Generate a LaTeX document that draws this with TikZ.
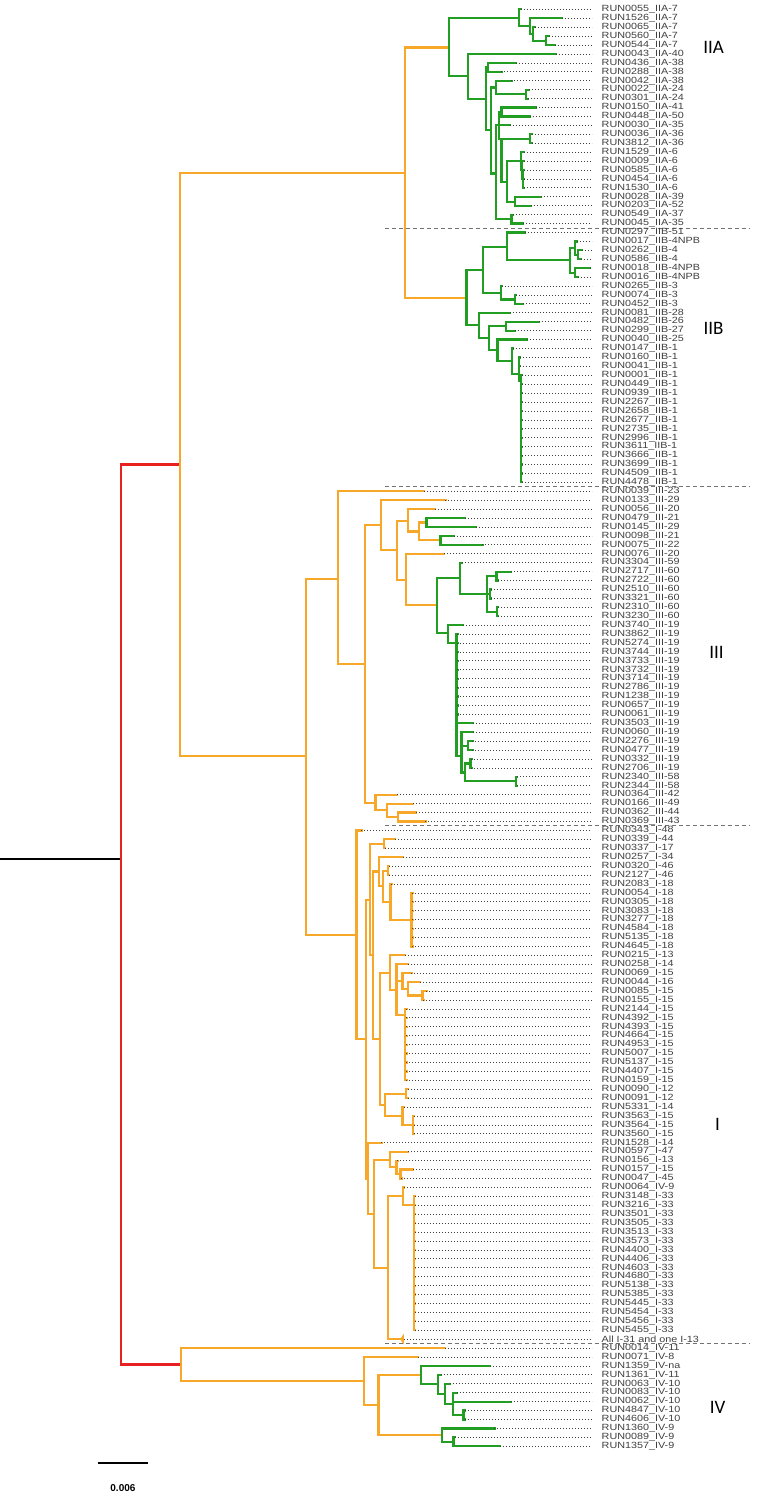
\documentclass[tikz,border=0pt]{standalone}
\usepackage{fontspec}
\setmainfont{Liberation Sans}
\newfontfamily\labfont[FakeStretch=1.2]{Liberation Sans}
\newfontfamily\cladefont{Carlito}
\definecolor{grn}{RGB}{34,158,34}
\definecolor{org}{RGB}{247,168,40}
\definecolor{rd}{RGB}{232,32,32}
\tikzset{
  br/.style={line width=2.2pt, line cap=rect},
  lead/.style={line width=0.8pt, line cap=butt, dash pattern=on 0.8pt off 2.2pt, color=black!75},
  lab/.style={anchor=west, inner xsep=9pt, inner ysep=0pt, text=black!75,
    font=\labfont\fontsize{9}{9}\selectfont},
  clade/.style={font=\cladefont\fontsize{19}{19}\selectfont},
  sep/.style={line width=1pt, color=black!55, dash pattern=on 4pt off 3pt},
}
% leaf: index, parent x, tip x, label
\newcommand\lf[4]{%
  \draw (#2,#1) -- (#3,#1) coordinate (t#1);
  \node[lab] (l#1) at (592,#1) {#4};
  \draw[lead] (t#1) -- (l#1.west);}
\begin{document}
\begin{tikzpicture}[x=1pt,y=-8.93pt]
  \useasboundingbox (0,-0.05) rectangle (764,168.36);
  % separators
  \foreach \s in {25.5,54.5,92.5,150.5}
    \draw[sep] (385,\s) -- (750,\s);
  % root
  \draw[br,black] (0,96.2) -- (121,96.2);
  \begin{scope}[br,rd]
    \draw (121,52) -- (121,152.85);
    \draw (121,52) -- (180,52);
    \draw (121,152.85) -- (181,152.85);
  \end{scope}
  \begin{scope}[br,org]
    \draw (180,19.3) -- (180,84.7);
    \draw (180,19.3) -- (405,19.3);
    \draw (180,84.7) -- (306,84.7);
    \draw (405,5.28) -- (405,33.3);
    \draw (405,5.28) -- (449,5.28);
    \draw (405,33.3) -- (466.7,33.3);
  \end{scope}
  % IIA
  \begin{scope}[br,grn]
    \draw (449,1.94) -- (449,8.5);
    \draw (449,1.94) -- (519,1.94);
    \draw (519,1) -- (519,2.875);
    \lf{1}{519}{521}{RUN0055\_IIA-7}
    \draw (519,2.875) -- (530,2.875);
    \draw (530,2) -- (530,3.75);
    \lf{2}{530}{562}{RUN1526\_IIA-7}
    \draw (530,3.75) -- (533.3,3.75);
    \draw (533.3,3) -- (533.3,4.5);
    \lf{3}{533.3}{535}{RUN0065\_IIA-7}
    \draw (533.3,4.5) -- (546,4.5);
    \draw (546,4) -- (546,5);
    \lf{4}{546}{549}{RUN0560\_IIA-7}
    \lf{5}{546}{555}{RUN0544\_IIA-7}
    \draw (449,8.5) -- (468,8.5);
    \draw (468,6) -- (468,11.05);
    \lf{6}{468}{556}{RUN0043\_IIA-40}
    \draw (468,11.05) -- (486,11.05);
    \draw (486,7.5) -- (486,14.5);
    \draw (486,7.5) -- (488.3,7.5);
    \draw (488.3,7) -- (488.3,8);
    \lf{7}{488.3}{516.7}{RUN0436\_IIA-38}
    \lf{8}{488.3}{501.7}{RUN0288\_IIA-38}
    \draw (486,14.5) -- (491,14.5);
    \draw (491,9.75) -- (491,19.4);
    \draw (491,9.75) -- (496,9.75);
    \draw (496,9) -- (496,10.5);
    \lf{9}{496}{511.7}{RUN0042\_IIA-38}
    \draw (496,10.5) -- (526.7,10.5);
    \draw (526.7,10) -- (526.7,11);
    \lf{10}{526.7}{529}{RUN0022\_IIA-24}
    \lf{11}{526.7}{528}{RUN0301\_IIA-24}
    \draw (491,19.4) -- (496,19.4);
    \draw (496,14) -- (496,24.5);
    \draw (496,14) -- (499.3,14);
    \draw (499.3,12.5) -- (499.3,15.5);
    \draw (499.3,12.5) -- (501.7,12.5);
    \draw (501.7,12) -- (501.7,13);
    \lf{12}{501.7}{536}{RUN0150\_IIA-41}
    \lf{13}{501.7}{530}{RUN0448\_IIA-50}
    \lf{14}{499.3}{510}{RUN0030\_IIA-35}
    \draw (499.3,15.5) -- (530,15.5);
    \draw (530,15) -- (530,16);
    \lf{15}{530}{532}{RUN0036\_IIA-36}
    \lf{16}{530}{532}{RUN3812\_IIA-36}
    \draw (501.7,15.5) -- (501.7,20.3);
    \draw (501.7,20.3) -- (507,20.3);
    \draw (507,18) -- (507,22.55);
    \draw (507,18) -- (521.7,18);
    \draw (521.7,17) -- (521.7,19);
    \lf{17}{521.7}{524}{RUN1529\_IIA-6}
    \draw (521.7,19) -- (522.5,19);
    \draw (522.5,18) -- (522.5,20);
    \lf{18}{522.5}{524}{RUN0009\_IIA-6}
    \draw (522.5,20) -- (523.3,20);
    \draw (523.3,19) -- (523.3,21);
    \lf{19}{523.3}{524.5}{RUN0585\_IIA-6}
    \lf{20}{523.3}{524.5}{RUN0454\_IIA-6}
    \lf{21}{523.3}{524.5}{RUN1530\_IIA-6}
    \draw (507,22.55) -- (515,22.55);
    \draw (515,22) -- (515,23);
    \lf{22}{515}{541.7}{RUN0028\_IIA-39}
    \lf{23}{515}{531.7}{RUN0203\_IIA-52}
    \draw (496,24.5) -- (511.7,24.5);
    \draw (511.7,24) -- (511.7,25);
    \lf{24}{511.7}{513.3}{RUN0549\_IIA-37}
    \lf{25}{511.7}{523.3}{RUN0045\_IIA-35}
  % IIB
    \draw (466.7,30.2) -- (466.7,36.4);
    \draw (466.7,30.2) -- (483.3,30.2);
    \draw (483.3,27.6) -- (483.3,32.75);
    \draw (483.3,27.6) -- (507.3,27.6);
    \draw (507.3,26) -- (507.3,29.1);
    \lf{26}{507.3}{525}{RUN0297\_IIB-51}
    \draw (507.3,29.1) -- (570.7,29.1);
    \draw (570.7,27.75) -- (570.7,30.5);
    \draw (570.7,27.75) -- (575,27.75);
    \draw (575,27) -- (575,28.5);
    \lf{27}{575}{577}{RUN0017\_IIB-4NPB}
    \draw (575,28.5) -- (578,28.5);
    \draw (578,28) -- (578,29);
    \lf{28}{578}{582}{RUN0262\_IIB-4}
    \lf{29}{578}{581}{RUN0586\_IIB-4}
    \draw (570.7,30.5) -- (575.7,30.5);
    \draw (575.7,30) -- (575.7,31);
    \lf{30}{575.7}{590}{RUN0018\_IIB-4NPB}
    \lf{31}{575.7}{578}{RUN0016\_IIB-4NPB}
    \draw (483.3,32.75) -- (501,32.75);
    \draw (501,32) -- (501,33.5);
    \lf{32}{501}{502}{RUN0265\_IIB-3}
    \draw (501,33.5) -- (515,33.5);
    \draw (515,33) -- (515,34);
    \lf{33}{515}{516.7}{RUN0074\_IIB-3}
    \lf{34}{515}{523.3}{RUN0452\_IIB-3}
    \draw (466.7,36.4) -- (479,36.4);
    \draw (479,35) -- (479,37.85);
    \lf{35}{479}{510}{RUN0081\_IIB-28}
    \draw (479,37.85) -- (489.3,37.85);
    \draw (489.3,36.5) -- (489.3,39.2);
    \draw (489.3,36.5) -- (506,36.5);
    \draw (506,36) -- (506,37);
    \lf{36}{506}{539.3}{RUN0482\_IIB-26}
    \lf{37}{506}{515}{RUN0299\_IIB-27}
    \draw (489.3,39.2) -- (497.7,39.2);
    \draw (497.7,38) -- (497.7,40.4);
    \lf{38}{497.7}{527.7}{RUN0040\_IIB-25}
    \draw (497.7,40.4) -- (512.3,40.4);
    \draw (512.3,39) -- (512.3,41.85);
    \lf{39}{512.3}{513.5}{RUN0147\_IIB-1}
    \draw (512.3,41.85) -- (519.3,41.85);
    \draw (519.3,40) -- (519.3,42.6);
    \lf{40}{519.3}{520.3}{RUN0160\_IIB-1}
    \lf{41}{519.3}{520.3}{RUN0041\_IIB-1}
    \draw (519.3,42.6) -- (521.7,42.6);
    \draw (521.7,42) -- (521.7,54);
    \foreach \idx/\code in {42/0001,43/0449,44/0939,45/2267,46/2658,47/2677,
        48/2735,49/2996,50/3611,51/3666,52/3699,53/4509,54/4478}
      {\lf{\idx}{521.7}{522.7}{RUN\code\_IIB-1}}
  \end{scope}
  % III
  \begin{scope}[br,org]
    \draw (306,64.8) -- (306,104.75);
    \draw (306,64.8) -- (338.3,64.8);
    \draw (306,104.75) -- (356.7,104.75);
    \draw (338.3,55) -- (338.3,74.35);
    \lf{55}{338.3}{424}{RUN0039\_III-23}
    \draw (338.3,74.35) -- (365,74.35);
    \draw (365,58.8) -- (365,89.9);
    \draw (365,58.8) -- (381,58.8);
    \draw (381,56) -- (381,61.6);
    \lf{56}{381}{445.7}{RUN0133\_III-29}
    \draw (381,61.6) -- (397.3,61.6);
    \draw (397.3,58.3) -- (397.3,64.9);
    \draw (397.3,58.3) -- (408.3,58.3);
    \draw (408.3,57) -- (408.3,59.5);
    \lf{57}{408.3}{435}{RUN0056\_III-20}
    \draw (408.3,59.5) -- (419,59.5);
    \draw (419,58.5) -- (419,60.5);
    \draw (419,58.5) -- (426.7,58.5);
    \draw (419,60.5) -- (440.7,60.5);
    \draw (397.3,64.9) -- (406,64.9);
    \draw (406,62) -- (406,67.75);
    \lf{62}{406}{444}{RUN0076\_III-20}
    \draw (406,67.75) -- (437.3,67.75);
    \draw (365,89.9) -- (375.7,89.9);
    \draw (375.7,89) -- (375.7,90.75);
    \lf{89}{375.7}{397.3}{RUN0364\_III-42}
    \draw (375.7,90.75) -- (387.3,90.75);
    \draw (387.3,90) -- (387.3,91.5);
    \lf{90}{387.3}{413.3}{RUN0166\_III-49}
    \draw (387.3,91.5) -- (398.3,91.5);
    \draw (398.3,91) -- (398.3,92);
    \lf{91}{398.3}{416}{RUN0362\_III-44}
    \lf{92}{398.3}{425.7}{RUN0369\_III-43}
  \end{scope}
  \begin{scope}[br,grn]
    \draw (426.7,58) -- (426.7,59);
    \lf{58}{426.7}{465}{RUN0479\_III-21}
    \lf{59}{426.7}{476}{RUN0145\_III-29}
    \draw (440.7,60) -- (440.7,61);
    \lf{60}{440.7}{454}{RUN0098\_III-21}
    \lf{61}{440.7}{482.7}{RUN0075\_III-22}
    \draw (437.3,64.75) -- (437.3,70.9);
    \draw (437.3,64.75) -- (460,64.75);
    \draw (460,63) -- (460,66.5);
    \lf{63}{460}{462}{RUN3304\_III-59}
    \draw (460,66.5) -- (487.3,66.5);
    \draw (487.3,64.5) -- (487.3,68.5);
    \draw (487.3,64.5) -- (496.7,64.5);
    \draw (496.7,64) -- (496.7,65);
    \lf{64}{496.7}{511}{RUN2717\_III-60}
    \lf{65}{496.7}{498.3}{RUN2722\_III-60}
    \draw (487.3,66.5) -- (490,66.5);
    \draw (490,66) -- (490,67);
    \lf{66}{490}{491}{RUN2510\_III-60}
    \lf{67}{490}{491}{RUN3321\_III-60}
    \draw (487.3,68.5) -- (497.3,68.5);
    \draw (497.3,68) -- (497.3,69);
    \lf{68}{497.3}{498.3}{RUN2310\_III-60}
    \lf{69}{497.3}{498.3}{RUN3230\_III-60}
    \draw (437.3,70.9) -- (448.3,70.9);
    \draw (448.3,70) -- (448.3,72);
    \lf{70}{448.3}{463.3}{RUN3740\_III-19}
    \draw (448.3,72) -- (456.7,72);
    \draw (456.7,71) -- (456.7,84.7);
    \foreach \idx/\code in {71/3862,72/5274,73/3744,74/3733,75/3732,
        76/3714,77/2786,78/1238,79/0657,80/0061}
      {\lf{\idx}{456.7}{457.7}{RUN\code\_III-19}}
    \lf{81}{456.7}{473.3}{RUN3503\_III-19}
    \draw (456.7,84.7) -- (461.7,84.7);
    \draw (461.7,82) -- (461.7,86.5);
    \lf{82}{461.7}{473.3}{RUN0060\_III-19}
    \draw (461.7,83.5) -- (468.3,83.5);
    \draw (468.3,83) -- (468.3,84);
    \lf{83}{468.3}{472.7}{RUN2276\_III-19}
    \lf{84}{468.3}{472.7}{RUN0477\_III-19}
    \draw (461.7,86.5) -- (465,86.5);
    \draw (465,85.5) -- (465,87.5);
    \draw (465,85.5) -- (470.7,85.5);
    \draw (470.7,85) -- (470.7,86);
    \lf{85}{470.7}{471.7}{RUN0332\_III-19}
    \lf{86}{470.7}{471.7}{RUN2706\_III-19}
    \draw (465,87.5) -- (516.7,87.5);
    \draw (516.7,87) -- (516.7,88);
    \lf{87}{516.7}{517.7}{RUN2340\_III-58}
    \lf{88}{516.7}{517.7}{RUN2344\_III-58}
  \end{scope}
  % I
  \begin{scope}[br,org]
    \draw (356.7,93) -- (356.7,116.4);
    \lf{93}{356.7}{361.7}{RUN0343\_I-48}
    \draw (356.7,116.4) -- (366,116.4);
    \draw (366,100.75) -- (366,132);
    \draw (366,100.75) -- (370,100.75);
    \draw (370,94.5) -- (370,107);
    \draw (370,94.5) -- (384.3,94.5);
    \draw (384.3,94) -- (384.3,95);
    \lf{94}{384.3}{395}{RUN0339\_I-44}
    \lf{95}{384.3}{385.3}{RUN0337\_I-17}
    \draw (370,107) -- (373.3,107);
    \draw (373.3,97.6) -- (373.3,116.4);
    \draw (373.3,97.6) -- (379.3,97.6);
    \draw (379.3,96) -- (379.3,99.25);
    \lf{96}{379.3}{403.3}{RUN0257\_I-34}
    \draw (379.3,99.25) -- (383,99.25);
    \draw (383,97.5) -- (383,101);
    \draw (383,97.5) -- (388.3,97.5);
    \draw (388.3,97) -- (388.3,98);
    \lf{97}{388.3}{389.3}{RUN0320\_I-46}
    \lf{98}{388.3}{389.3}{RUN2127\_I-46}
    \draw (383,101) -- (390.7,101);
    \draw (390.7,99) -- (390.7,103);
    \lf{99}{390.7}{391.7}{RUN2083\_I-18}
    \draw (390.7,103) -- (411.7,103);
    \draw (411.7,100) -- (411.7,106);
    \foreach \idx/\code in {100/0054,101/0305,102/3083,103/3277,104/4584,
        105/5135,106/4645}
      {\lf{\idx}{411.7}{412.7}{RUN\code\_I-18}}
    \draw (373.3,116.4) -- (380,116.4);
    \draw (380,109) -- (380,123.75);
    \draw (380,109) -- (390,109);
    \draw (390,107) -- (390,110.9);
    \lf{107}{390}{405}{RUN0215\_I-13}
    \draw (390,110.9) -- (396.7,110.9);
    \draw (396.7,108) -- (396.7,113.7);
    \lf{108}{396.7}{408.3}{RUN0258\_I-14}
    \draw (396.7,109.9) -- (402.7,109.9);
    \draw (402.7,109) -- (402.7,110.75);
    \lf{109}{402.7}{411.7}{RUN0069\_I-15}
    \draw (402.7,110.75) -- (408.3,110.75);
    \draw (408.3,110) -- (408.3,111.5);
    \lf{110}{408.3}{420}{RUN0044\_I-16}
    \draw (408.3,111.5) -- (422.7,111.5);
    \draw (422.7,111) -- (422.7,112);
    \lf{111}{422.7}{426.7}{RUN0085\_I-15}
    \lf{112}{422.7}{423.7}{RUN0155\_I-15}
    \draw (396.7,113.7) -- (405.3,113.7);
    \draw (405.3,113) -- (405.3,121);
    \foreach \idx/\code in {113/2144,114/4392,115/4393,116/4664,117/4953,
        118/5007,119/5137,120/4407,121/0159}
      {\lf{\idx}{405.3}{406.7}{RUN\code\_I-15}}
    \draw (380,123.75) -- (385,123.75);
    \draw (385,122.5) -- (385,125);
    \draw (385,122.5) -- (406,122.5);
    \draw (406,122) -- (406,123);
    \lf{122}{406}{408.3}{RUN0090\_I-12}
    \lf{123}{406}{408.3}{RUN0091\_I-12}
    \draw (385,125) -- (402.7,125);
    \draw (402.7,124) -- (402.7,126);
    \lf{124}{402.7}{404}{RUN5331\_I-14}
    \draw (402.7,126) -- (413.3,126);
    \draw (413.3,125) -- (413.3,127);
    \foreach \idx/\code in {125/3563,126/3564,127/3560}
      {\lf{\idx}{413.3}{414}{RUN\code\_I-15}}
    \draw (366,132) -- (368.3,132);
    \draw (368.3,128) -- (368.3,136);
    \lf{128}{368.3}{381.7}{RUN1528\_I-14}
    \draw (368.3,136) -- (374.3,136);
    \draw (374.3,129.9) -- (374.3,142);
    \draw (374.3,129.9) -- (390,129.9);
    \draw (390,129) -- (390,130.75);
    \lf{129}{390}{408.3}{RUN0597\_I-47}
    \draw (390,130.75) -- (396.7,130.75);
    \draw (396.7,130) -- (396.7,131.5);
    \lf{130}{396.7}{397.7}{RUN0156\_I-13}
    \draw (396.7,131.5) -- (400.7,131.5);
    \draw (400.7,131) -- (400.7,132);
    \lf{131}{400.7}{413.3}{RUN0157\_I-15}
    \lf{132}{400.7}{401.7}{RUN0047\_I-45}
    \draw (374.3,142) -- (388.3,142);
    \draw (388.3,134) -- (388.3,150);
    \draw (388.3,134) -- (403.3,134);
    \draw (403.3,133) -- (403.3,135);
    \lf{133}{403.3}{404.3}{RUN0064\_IV-9}
    \draw (403.3,135) -- (414.3,135);
    \draw (414.3,134) -- (414.3,149);
    \foreach \idx/\code in {134/3148,135/3216,136/3501,137/3505,138/3513,
        139/3573,140/4400,141/4406,142/4603,143/4680,144/5138,145/5385,
        146/5445,147/5454,148/5456,149/5455}
      {\lf{\idx}{414.3}{415}{RUN\code\_I-33}}
    \draw (388.3,150) -- (400.5,150);
    \fill[org] (400.5,150) -- (404,149.4) -- (404,150.6) -- cycle;
    \coordinate (t150) at (404,150);
    \node[lab] (l150) at (592,150) {All I-31 and one I-13};
    \draw[lead] (t150) -- (l150.west);
  % IV
    \draw (181,151) -- (181,154.7);
    \lf{151}{181}{445}{RUN0014\_IV-11}
    \draw (181,154.7) -- (364,154.7);
    \draw (364,152) -- (364,157.4);
    \lf{152}{364}{418}{RUN0071\_IV-8}
    \draw (364,157.4) -- (378.7,157.4);
    \draw (378.7,154.03) -- (378.7,160.75);
    \draw (378.7,154.03) -- (421,154.03);
    \draw (378.7,160.75) -- (442,160.75);
  \end{scope}
  \begin{scope}[br,grn]
    \draw (421,153) -- (421,155.06);
    \lf{153}{421}{490.5}{RUN1359\_IV-na}
    \draw (421,155.06) -- (438.5,155.06);
    \draw (438.5,154) -- (438.5,156.1);
    \lf{154}{438.5}{441}{RUN1361\_IV-11}
    \draw (438.5,156.1) -- (445.5,156.1);
    \draw (445.5,155) -- (445.5,157.25);
    \lf{155}{445.5}{450}{RUN0063\_IV-10}
    \draw (445.5,157.25) -- (453.6,157.25);
    \draw (453.6,156) -- (453.6,158.5);
    \lf{156}{453.6}{457}{RUN0083\_IV-10}
    \lf{157}{453.6}{511}{RUN0062\_IV-10}
    \draw (453.6,158.5) -- (463.8,158.5);
    \draw (463.8,158) -- (463.8,159);
    \lf{158}{463.8}{465}{RUN4847\_IV-10}
    \lf{159}{463.8}{465}{RUN4606\_IV-10}
    \draw (442,160) -- (442,161.5);
    \lf{160}{442}{494.7}{RUN1360\_IV-9}
    \draw (442,161.5) -- (453.7,161.5);
    \draw (453.7,161) -- (453.7,162);
    \lf{161}{453.7}{455}{RUN0089\_IV-9}
    \lf{162}{453.7}{499.8}{RUN1357\_IV-9}
  \end{scope}
  % clade names
  \node[clade] (cIIA) at (714,5.31) {IIA};
  \node[clade] (cIIB) at (714,36.7) {IIB};
  \node[clade] (cIII) at (717,73.06) {III};
  \node[clade] (cI) at (718,125.9) {I};
  \node[clade] (cIV) at (718,157.7) {IV};
  % scale bar
  \draw[line width=1.5pt] (98,163.9) -- (148,163.9);
  \node[font=\bfseries\fontsize{10}{10}\selectfont] (sbar) at (123,166.7) {0.006};
\end{tikzpicture}
\end{document}
